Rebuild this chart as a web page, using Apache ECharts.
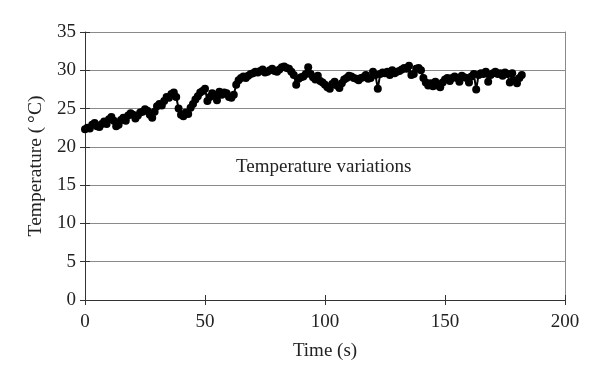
<!DOCTYPE html>
<html><head><meta charset="utf-8">
<script src="https://cdn.jsdelivr.net/npm/echarts@6/dist/echarts.min.js"></script>
<style>html,body{margin:0;padding:0;background:#fff}#c{width:600px;height:382px}</style>
</head><body><div id="c"></div>
<script>
const times = [];
for (let i = 0; i <= 182; i++) times.push(i);
const temps = [
22.3,22.5,22.4,22.9,23.1,22.7,22.6,23.0,23.3,23.0,
23.6,23.9,23.4,22.7,22.9,23.5,23.8,23.4,24.1,24.4,
24.2,23.7,24.1,24.5,24.6,24.9,24.7,24.2,23.8,24.6,
25.3,25.6,25.4,26.0,26.5,26.4,26.9,27.1,26.5,25.0,
24.2,24.0,24.5,24.3,25.1,25.6,26.2,26.6,27.1,27.3,
27.6,26.0,26.5,27.0,26.7,26.1,27.2,26.8,27.1,27.0,
26.5,26.4,26.8,28.1,28.7,29.0,29.2,29.0,29.3,29.5,
29.6,29.8,29.7,29.9,30.1,29.7,29.8,30.0,30.2,29.9,
29.8,30.1,30.4,30.5,30.3,30.2,29.8,29.4,28.1,28.9,
29.1,29.2,29.5,30.4,29.5,29.1,28.8,29.3,28.6,28.4,
28.1,27.8,27.6,28.2,28.5,28.0,27.7,28.3,28.8,29.0,
29.3,29.2,29.0,28.9,28.7,29.0,29.1,29.4,28.9,29.0,
29.8,29.4,27.6,29.5,29.7,29.6,29.8,29.4,30.0,29.6,
29.8,29.9,30.1,30.3,30.2,30.6,29.4,29.5,30.2,30.3,
30.0,29.0,28.4,28.0,28.3,27.9,28.5,28.0,27.8,28.4,
28.8,29.0,28.6,29.0,29.2,29.0,28.5,29.3,29.1,29.0,
28.4,29.2,29.5,27.5,29.4,29.6,29.5,29.8,28.5,29.4,
29.6,29.8,29.5,29.6,29.3,29.7,29.5,28.4,29.6,28.7,
28.3,29.0,29.4
];
const xTicks = [0, 50, 100, 150, 200];
const yTicks = [0, 5, 10, 15, 20, 25, 30, 35];
const annotation = 'Temperature variations';

const font = '"Liberation Serif", "DejaVu Serif", serif';
const chart = echarts.init(document.getElementById('c'), null, {renderer: 'canvas'});
const data = times.map((t, i) => [t, temps[i]]);
chart.setOption({
  animation: false,
  grid: {left: 85, right: 35, top: 32, bottom: 82, containLabel: false},
  xAxis: [{
    type: 'value', min: xTicks[0], max: xTicks[xTicks.length - 1], interval: 50,
    axisLine: {show: true, lineStyle: {color: '#333', width: 1}},
    axisTick: {show: true, length: 5, lineStyle: {color: '#333'}},
    axisLabel: {color: '#222', fontFamily: font, fontSize: 19, margin: 13},
    splitLine: {show: false},
    name: 'Time (s)', nameLocation: 'middle', nameGap: 42,
    nameTextStyle: {color: '#222', fontFamily: font, fontSize: 19}
  }, {
    type: 'value', min: 0, max: 200, interval: 50, position: 'bottom',
    axisLine: {show: false},
    axisTick: {show: true, inside: true, length: 5, lineStyle: {color: '#333'}},
    axisLabel: {show: false}, splitLine: {show: false}
  }],
  yAxis: [{
    type: 'value', min: yTicks[0], max: yTicks[yTicks.length - 1], interval: 5,
    axisLine: {show: true, lineStyle: {color: '#333', width: 1}},
    axisTick: {show: true, length: 5, lineStyle: {color: '#333'}},
    axisLabel: {color: '#222', fontFamily: font, fontSize: 19, margin: 9},
    splitLine: {show: true, lineStyle: {color: '#8a8a8a', width: 1}},
    name: 'Temperature (\u2009°C)', nameLocation: 'middle', nameGap: 38, nameRotate: 90,
    nameTextStyle: {color: '#222', fontFamily: font, fontSize: 19.5}
  }, {
    type: 'value', min: 0, max: 35, interval: 5, position: 'left',
    axisLine: {show: false},
    axisTick: {show: true, inside: true, length: 5, lineStyle: {color: '#333'}},
    axisLabel: {show: false}, splitLine: {show: false}
  }, {
    type: 'value', min: 0, max: 35, interval: 5, position: 'right',
    axisLine: {show: true, lineStyle: {color: '#8a8a8a', width: 1}},
    axisTick: {show: false}, axisLabel: {show: false}, splitLine: {show: false}
  }],
  series: [{
    type: 'line', data: data, xAxisIndex: 0, yAxisIndex: 0,
    symbol: 'circle', symbolSize: 8,
    lineStyle: {color: '#000', width: 2},
    itemStyle: {color: '#000'}
  }],
  graphic: [{
    type: 'text', left: 236, top: 158,
    style: {text: annotation, fill: '#222', font: '19px ' + font}
  }]
});
</script></body></html>
